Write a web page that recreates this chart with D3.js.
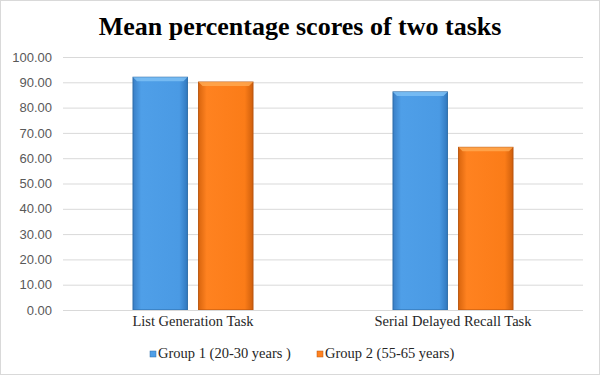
<!DOCTYPE html>
<html><head><meta charset="utf-8">
<script src="https://cdn.jsdelivr.net/npm/d3@7"></script>
<style>body{margin:0;background:#fff}svg{display:block}</style>
</head><body><svg id="c" width="600" height="375"></svg>
<script>
const categories = ["List Generation Task", "Serial Delayed Recall Task"];
const seriesNames = ["Group 1 (20-30 years )", "Group 2 (55-65 years)"];
const group1 = [92.0, 86.2];
const group2 = [90.1, 64.3];
const yTicks = [0,10,20,30,40,50,60,70,80,90,100];
const title = "Mean percentage scores of two tasks";

const svg = d3.select("#c");
const W = 600, H = 375;
const m = {left: 63, right: 17, top: 57, bottom: 65};
const serif = "'Liberation Serif','Times New Roman',serif";
svg.append("rect").attr("x",0.5).attr("y",0.5).attr("width",W-1).attr("height",H-1)
  .attr("fill","#fff").attr("stroke","#d9d9d9");

const defs = svg.append("defs");
const palettes = [
  {id:"gBlue", stops:["#3a7fc6","#4f9fe8","#4a9ae4","#3178be"], stroke:"#2e6da8", top:"#7cc0f5"},
  {id:"gOrange", stops:["#d9650e","#ff8220","#fb7c18","#cf5f0c"], stroke:"#b9550e", top:"#ffa850"}
];
palettes.forEach(p => {
  const g = defs.append("linearGradient").attr("id",p.id).attr("x1","0").attr("x2","1").attr("y1","0").attr("y2","0");
  [0,0.15,0.85,1].forEach((o,i)=>g.append("stop").attr("offset",o).attr("stop-color",p.stops[i]));
});

const x0 = d3.scaleBand().domain(categories).range([m.left, W-m.right]).padding(0);
const x1 = d3.scaleBand().domain(seriesNames).range([70, 190]).paddingInner(0.17).paddingOuter(0);
const y = d3.scaleLinear().domain([0,100]).range([H-m.bottom, m.top]);

// gridlines
svg.append("g").selectAll("line").data(yTicks).join("line")
  .attr("x1", m.left).attr("x2", W-m.right)
  .attr("y1", d=>y(d)+0.5).attr("y2", d=>y(d)+0.5)
  .attr("stroke","#d9d9d9").attr("stroke-width",1);

// y axis labels
const yAxis = d3.axisLeft(y).tickValues(yTicks).tickFormat(d3.format(".2f")).tickSize(0).tickPadding(11);
const ga = svg.append("g").attr("transform",`translate(${m.left},0)`).call(yAxis);
ga.select(".domain").remove();
ga.selectAll("text").attr("font-family","'Liberation Sans', Arial, sans-serif").attr("font-size",13).attr("fill","#595959");

// bars
const data = categories.map((c,i)=>({cat:c, vals:[group1[i], group2[i]]}));
data.forEach(d => {
  d.vals.forEach((v,j) => {
    const bx = x0(d.cat) + x1(seriesNames[j]);
    const bw = x1.bandwidth();
    const by = y(v), bh = y(0) - y(v);
    const p = palettes[j];
    svg.append("rect").attr("x",bx).attr("y",by).attr("width",bw).attr("height",bh)
      .attr("fill",`url(#${p.id})`).attr("stroke",p.stroke).attr("stroke-width",1);
    svg.append("path")
      .attr("d",`M${bx},${by} L${bx+bw},${by} L${bx+bw-4},${by+4} L${bx+4},${by+4} Z`)
      .attr("fill",p.top).attr("opacity",0.85);
  });
});

// baseline
svg.append("line").attr("x1",m.left).attr("x2",W-m.right).attr("y1",y(0)+0.5).attr("y2",y(0)+0.5)
  .attr("stroke","#d9d9d9");

// category labels
const xAxis = d3.axisBottom(x0).tickSize(0).tickPadding(6);
const gx = svg.append("g").attr("transform",`translate(0,${y(0)})`).call(xAxis);
gx.select(".domain").remove();
gx.selectAll("text").attr("font-family",serif).attr("font-size",14.5).attr("fill","#262626");

// title
svg.append("text").attr("x",W/2).attr("y",35).attr("text-anchor","middle")
  .attr("font-family",serif).attr("font-weight","bold")
  .attr("font-size",26).attr("fill","#000").text(title);

// legend
const legX = [150, 317];
const leg = svg.append("g");
seriesNames.forEach((s,j)=>{
  leg.append("rect").attr("x",legX[j]).attr("y",351).attr("width",6).attr("height",6)
    .attr("fill",palettes[j].stops[1]).attr("stroke",palettes[j].stroke).attr("stroke-width",0.5);
  leg.append("text").attr("x",legX[j]+8).attr("y",358)
    .attr("font-family",serif).attr("font-size",14.5).attr("fill","#262626").text(s);
});
</script></body></html>
